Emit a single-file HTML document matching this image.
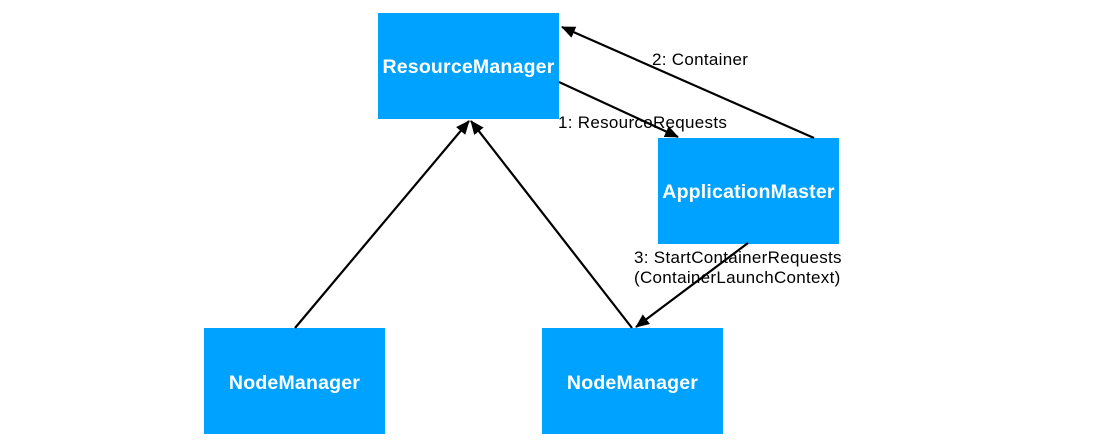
<!DOCTYPE html>
<html><head><style>
html,body{margin:0;padding:0;background:#fff;}
body{width:1115px;height:444px;position:relative;overflow:hidden;font-family:"Liberation Sans",sans-serif;}
.b{position:absolute;background:#00A2FF;color:#fff;font-weight:bold;font-size:19.5px;display:flex;align-items:center;justify-content:center;width:181px;height:106px;padding-top:5px;box-sizing:border-box;letter-spacing:0.2px;}
.t{position:absolute;font-size:17px;color:#000;white-space:nowrap;line-height:20px;letter-spacing:0.3px;}
svg{position:absolute;left:0;top:0;}
</style></head><body>
<div class="b" style="left:378px;top:13px;padding-top:3px;">ResourceManager</div>
<div class="b" style="left:658px;top:138px;padding-top:3px;">ApplicationMaster</div>
<div class="b" style="left:204px;top:328px;">NodeManager</div>
<div class="b" style="left:542px;top:328px;">NodeManager</div>
<svg width="1115" height="444">
<defs><marker id="a" markerWidth="14" markerHeight="12" refX="13" refY="6" orient="auto" markerUnits="userSpaceOnUse"><path d="M0,0L14,6L0,12z" fill="#000"/></marker></defs>
<g stroke="#000" stroke-width="2.2" fill="none" marker-end="url(#a)">
<line x1="814" y1="138" x2="562" y2="27"/>
<line x1="559" y1="82" x2="678" y2="137"/>
<line x1="295" y1="328" x2="469" y2="121"/>
<line x1="632" y1="328" x2="471" y2="121"/>
<line x1="748" y1="243" x2="636" y2="327"/>
</g>
</svg>
<div class="t" style="left:652px;top:50px;">2: Container</div>
<div class="t" style="left:558px;top:113px;">1: ResourceRequests</div>
<div class="t" style="left:634px;top:248px;">3: StartContainerRequests<br>(ContainerLaunchContext)</div>
</body></html>
